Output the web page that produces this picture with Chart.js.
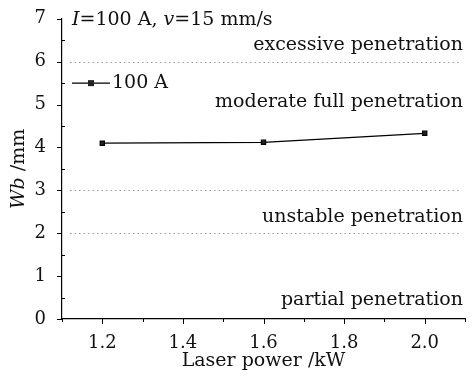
<!DOCTYPE html>
<html>
<head>
<meta charset="utf-8">
<script src="https://cdn.jsdelivr.net/npm/chart.js@4"></script>
<style>
  body { margin: 0; background: #fff; }
</style>
</head>
<body>
<canvas id="myChart" width="473" height="376"></canvas>
<script>
// data
var power = [1.2, 1.6, 2.0];
var wb100 = [4.1, 4.12, 4.33];
var yTicks = [0, 1, 2, 3, 4, 5, 6, 7];
var boundaries = [6, 3, 2];
var regionNames = ["excessive penetration", "moderate full penetration", "unstable penetration", "partial penetration"];
var regionY = [6.38, 5.07, 2.38, 0.43];

var serif = "'DejaVu Serif', serif";
var txt = 19;

// draws minor ticks, dotted boundaries, region texts, legend, titles
var decor = {
  id: 'decor',
  afterDraw: function(chart) {
    var ctx = chart.ctx, xs = chart.scales.x, ys = chart.scales.y, a = chart.chartArea;
    ctx.save();
    ctx.strokeStyle = '#000';
    ctx.lineWidth = 1;
    // x tick marks
    for (var v = 11; v <= 21; v++) {
      var px = Math.round(xs.getPixelForValue(v / 10)) + 0.5;
      var len = (v % 2 == 0) ? 5 : 3;
      ctx.beginPath(); ctx.moveTo(px, a.bottom); ctx.lineTo(px, a.bottom + len); ctx.stroke();
    }
    // y tick marks
    for (var k = 0; k <= 14; k++) {
      var py = Math.round(ys.getPixelForValue(k / 2)) + 0.5;
      ctx.beginPath();
      if (k % 2 == 0) { ctx.moveTo(a.left - 5, py); ctx.lineTo(a.left, py); }
      else { ctx.moveTo(a.left, py); ctx.lineTo(a.left + 3, py); }
      ctx.stroke();
    }
    // dotted boundaries
    ctx.strokeStyle = '#999';
    ctx.setLineDash([1.5, 3]);
    boundaries.forEach(function(b) {
      var py = Math.round(ys.getPixelForValue(b)) + 0.5;
      ctx.beginPath(); ctx.moveTo(a.left + 8, py); ctx.lineTo(a.right - 4, py); ctx.stroke();
    });
    ctx.setLineDash([]);
    // region labels
    ctx.fillStyle = '#111';
    ctx.font = txt + 'px ' + serif;
    ctx.textAlign = 'right';
    ctx.textBaseline = 'middle';
    regionNames.forEach(function(t, i) {
      ctx.fillText(t, a.right - 2, ys.getPixelForValue(regionY[i]));
    });
    // condition text with italic symbols
    ctx.textAlign = 'left';
    var x0 = a.left + 10, y0 = ys.getPixelForValue(6.98);
    var parts = [['I', true], ['=100 A, ', false], ['v', true], ['=15 mm/s', false]];
    parts.forEach(function(p) {
      ctx.font = (p[1] ? 'italic ' : '') + txt + 'px ' + serif;
      ctx.fillText(p[0], x0, y0);
      x0 += ctx.measureText(p[0]).width;
    });
    // legend
    var ly = ys.getPixelForValue(5.5), lx = a.left + 10;
    ctx.strokeStyle = '#000';
    ctx.lineWidth = 1.2;
    ctx.beginPath(); ctx.moveTo(lx, ly); ctx.lineTo(lx + 38, ly); ctx.stroke();
    ctx.fillStyle = '#222';
    ctx.fillRect(lx + 16, ly - 3, 6, 6);
    ctx.font = txt + 'px ' + serif;
    ctx.fillStyle = '#111';
    ctx.fillText('100 A', lx + 40, ly);
    // y title with italic Wb
    ctx.translate(19, (a.top + a.bottom) / 2);
    ctx.rotate(-Math.PI / 2);
    ctx.font = 'italic ' + txt + 'px ' + serif;
    var w1 = ctx.measureText('Wb').width;
    ctx.font = txt + 'px ' + serif;
    var w2 = ctx.measureText(' /mm').width;
    var sx = -(w1 + w2) / 2;
    ctx.font = 'italic ' + txt + 'px ' + serif;
    ctx.fillText('Wb', sx, 0);
    ctx.font = txt + 'px ' + serif;
    ctx.fillText(' /mm', sx + w1, 0);
    ctx.restore();
  }
};

var data = {
  datasets: [{
    label: '100 A',
    data: power.map(function(p, i) { return { x: p, y: wb100[i] }; }),
    borderColor: '#000',
    backgroundColor: '#222',
    borderWidth: 1.2,
    pointStyle: 'rect',
    pointRadius: 3,
    showLine: true
  }]
};

var config = {
  type: 'scatter',
  data: data,
  options: {
    responsive: false,
    animation: false,
    layout: { padding: { top: 17, right: 8, left: 0, bottom: 0 } },
    plugins: { legend: { display: false }, tooltip: { enabled: false } },
    scales: {
      x: {
        type: 'linear', min: 1.1, max: 2.1,
        grid: { display: false },
        border: { color: '#000', width: 1.2 },
        ticks: {
          stepSize: 0.1, autoSkip: false, maxRotation: 0, padding: 6,
          color: '#111', font: { family: serif, size: 18 },
          callback: function(v) {
            var n = Math.round(v * 10);
            return (n % 2 == 0 && n >= 12) ? (n / 10).toFixed(1) : '';
          }
        },
        title: { display: true, text: 'Laser power /kW', color: '#111', font: { family: serif, size: txt }, padding: { top: 0 } },
        afterFit: function(s) { s.height = 57; }
      },
      y: {
        min: 0, max: 7,
        grid: { display: false },
        border: { color: '#000', width: 1.2 },
        afterBuildTicks: function(s) { s.ticks = yTicks.map(function(v) { return { value: v }; }); },
        ticks: { color: '#111', padding: 8, font: { family: serif, size: 18 } },
        afterFit: function(s) { s.width = 62; }
      }
    }
  },
  plugins: [decor]
};

var myChart = new Chart(document.getElementById('myChart'), config);
</script>
</body>
</html>
